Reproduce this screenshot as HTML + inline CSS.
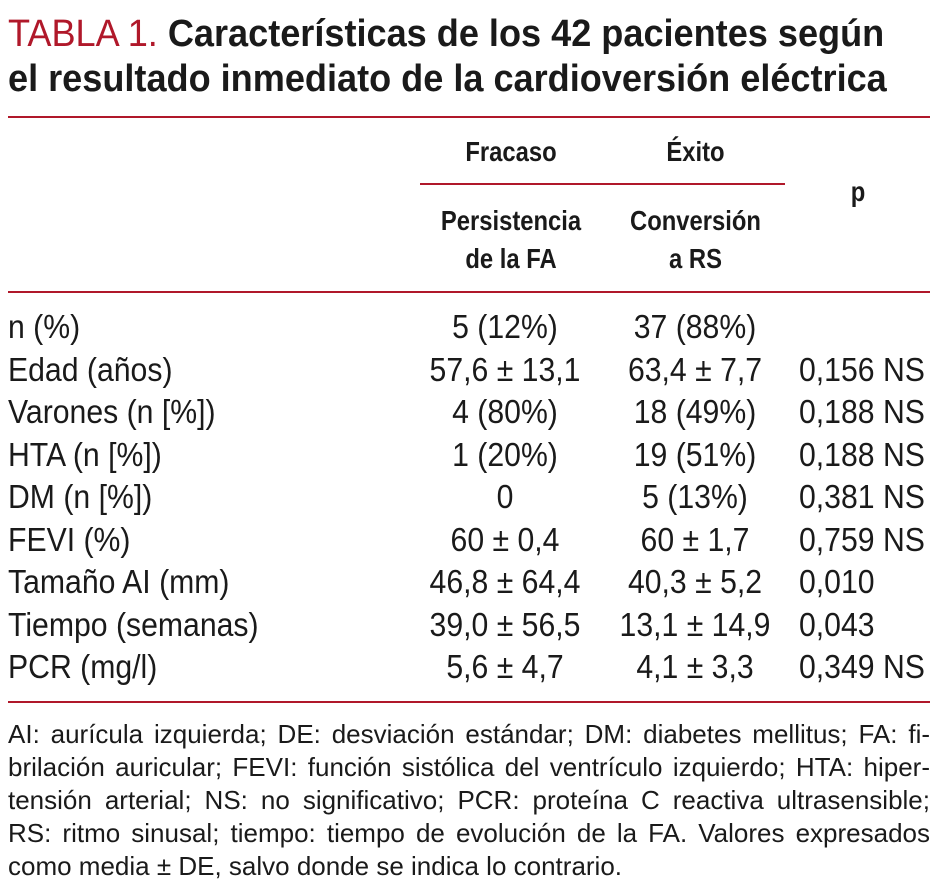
<!DOCTYPE html>
<html><head><meta charset="utf-8">
<style>
html,body{margin:0;padding:0;background:#fff;}
body{width:940px;height:888px;position:relative;overflow:hidden;font-family:"Liberation Sans",sans-serif;color:#1a1a1a;}
.a{position:absolute;white-space:nowrap;}
.title{left:8px;font-size:38px;font-weight:bold;line-height:44px;transform:scaleX(0.95);transform-origin:left center;}
.title .red{color:#b0182a;font-weight:normal;}
.rule{position:absolute;height:2px;background:#b0182a;}
.h{font-weight:bold;font-size:28px;text-align:center;transform:scaleX(0.85);transform-origin:center center;}
.row{position:absolute;left:0;width:940px;height:42px;font-size:33px;line-height:42px;}
.row span{position:absolute;white-space:nowrap;transform:scaleX(0.915);}
.c1{left:8px;transform-origin:left center;}
.c2{left:405px;width:200px;text-align:center;transform-origin:center center;}
.c3{left:595px;width:200px;text-align:center;transform-origin:center center;}
.c4{left:799px;transform-origin:left center;}
.foot{position:absolute;left:8px;top:718px;width:922px;font-size:26px;line-height:33px;}
.foot div{text-align:justify;text-align-last:justify;white-space:nowrap;}
.foot div.last{text-align-last:left;}
</style></head><body>
<div class="a title" style="top:12px"><span class="red">TABLA 1.</span> Características de los 42 pacientes según</div>
<div class="a title" style="top:57px">el resultado inmediato de la cardioversión eléctrica</div>
<div class="rule" style="left:8px;width:922px;top:116px"></div>
<div class="a h" style="left:416px;width:190px;top:136px">Fracaso</div>
<div class="a h" style="left:608px;width:175px;top:136px">Éxito</div>
<div class="rule" style="left:420px;width:365px;top:183px"></div>
<div class="a h" style="left:838px;width:40px;top:176px">p</div>
<div class="a h" style="left:416px;width:190px;top:202px;line-height:38px">Persistencia<br>de la FA</div>
<div class="a h" style="left:608px;width:175px;top:202px;line-height:38px">Conversión<br>a RS</div>
<div class="rule" style="left:8px;width:922px;top:291px"></div>
<div id="rows"></div>
<div class="rule" style="left:8px;width:922px;top:701px"></div>
<div class="foot">
<div>AI: aurícula izquierda; DE: desviación estándar; DM: diabetes mellitus; FA: fi-</div>
<div>brilación auricular; FEVI: función sistólica del ventrículo izquierdo; HTA: hiper-</div>
<div>tensión arterial; NS: no significativo; PCR: proteína C reactiva ultrasensible;</div>
<div>RS: ritmo sinusal; tiempo: tiempo de evolución de la FA. Valores expresados</div>
<div class="last">como media ± DE, salvo donde se indica lo contrario.</div>
</div>
<script>
const labels=["n (%)","Edad (años)","Varones (n [%])","HTA (n [%])","DM (n [%])","FEVI (%)","Tamaño AI (mm)","Tiempo (semanas)","PCR (mg/l)"];
const fracaso=["5 (12%)","57,6 ± 13,1","4 (80%)","1 (20%)","0","60 ± 0,4","46,8 ± 64,4","39,0 ± 56,5","5,6 ± 4,7"];
const exito=["37 (88%)","63,4 ± 7,7","18 (49%)","19 (51%)","5 (13%)","60 ± 1,7","40,3 ± 5,2","13,1 ± 14,9","4,1 ± 3,3"];
const pvals=["","0,156 NS","0,188 NS","0,188 NS","0,381 NS","0,759 NS","0,010","0,043","0,349 NS"];
const host=document.getElementById('rows');
labels.forEach((l,i)=>{
  const r=document.createElement('div');
  r.className='row';
  r.style.top=(306+i*42.5)+'px';
  
  
  [['c1',l],['c2',fracaso[i]],['c3',exito[i]],['c4',pvals[i]]].forEach(([c,t])=>{
    const s=document.createElement('span');s.className=c;s.textContent=t;
    
    
    r.appendChild(s);
  });
  host.appendChild(r);
});
</script>
</body></html>
